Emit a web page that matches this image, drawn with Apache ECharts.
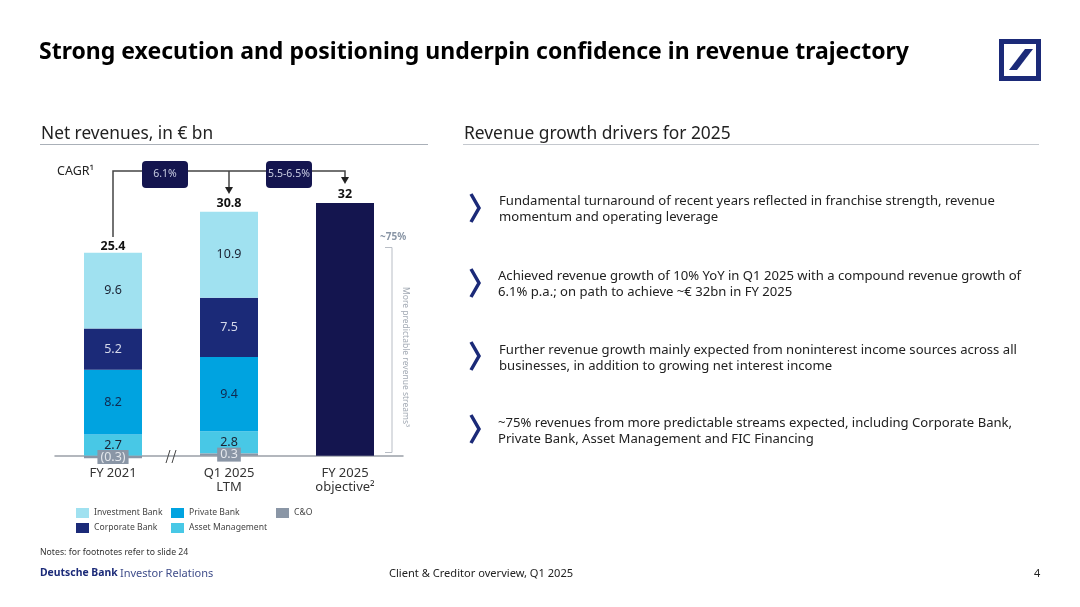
<!DOCTYPE html>
<html>
<head>
<meta charset="utf-8">
<title>Net revenues</title>
<script src="https://cdn.jsdelivr.net/npm/echarts@6/dist/echarts.min.js"></script>
<style>
  html, body { margin: 0; padding: 0; background: #fff; }
  #main { width: 1080px; height: 607px; }
</style>
</head>
<body>
<div id="main"></div>
<script>
var categories = ['FY 2021', 'Q1 2025\nLTM', 'FY 2025\nobjective²'];
var investmentBank = [9.6, 10.9, null];
var corporateBank = [5.2, 7.5, null];
var privateBank = [8.2, 9.4, null];
var assetManagement = [2.7, 2.8, null];
var capitalOther = [-0.3, 0.3, null];
var objective = [null, null, 32];
var totals = [25.4, 30.8, 32];
var cagrLabels = ['6.1%', '5.5-6.5%'];

var drivers = [
  ['Fundamental turnaround of recent years reflected in franchise strength, revenue', 'momentum and operating leverage'],
  ['Achieved revenue growth of 10% YoY in Q1 2025 with a compound revenue growth of', '6.1% p.a.; on path to achieve ~€ 32bn in FY 2025'],
  ['Further revenue growth mainly expected from noninterest income sources across all', 'businesses, in addition to growing net interest income'],
  ['~75% revenues from more predictable streams expected, including Corporate Bank,', 'Private Bank, Asset Management and FIC Financing']
];
var driverRows = [208, 283, 356, 429];
var driverTextY = [201, 276, 350, 423];

var FONT = '"Noto Sans", sans-serif';
var NAVY = '#1b2a78';
var DARK = '#14154f';
var GREY = '#8a96a6';

var chart = echarts.init(document.getElementById('main'));

function stacked(name, data, color, textColor) {
  return {
    name: name,
    type: 'bar',
    stack: 'rev',
    barWidth: '50%',
    data: data,
    itemStyle: { color: color },
    label: {
      show: true,
      position: 'inside',
      color: textColor,
      fontFamily: FONT,
      fontSize: 12.5
    }
  };
}

function legendAt(left, names) {
  return {
    left: left,
    top: 503,
    orient: 'vertical',
    itemWidth: 13,
    itemHeight: 10,
    itemGap: 5,
    icon: 'rect',
    selectedMode: false,
    textStyle: { color: '#444', fontSize: 8.6, fontFamily: FONT },
    data: names
  };
}

var capSeries = stacked('C&O', capitalOther, GREY, '#e4e7ec');
capSeries.label.backgroundColor = GREY;
capSeries.label.padding = [1, 3, 0, 3];
capSeries.label.formatter = function (p) {
  return p.value < 0 ? '(' + Math.abs(p.value) + ')' : p.value;
};
capSeries.z = 3;

var option = {
  animation: false,
  backgroundColor: '#fff',
  textStyle: { fontFamily: FONT },
  grid: { left: 55, top: 203, width: 348, height: 268.6 },
  legend: [
    legendAt(71, ['Investment Bank', 'Corporate Bank']),
    legendAt(166, ['Private Bank', 'Asset Management']),
    legendAt(271, ['C&O'])
  ],
  xAxis: {
    type: 'category',
    data: categories,
    axisTick: { show: false },
    axisLine: { onZero: true, lineStyle: { color: '#9aa0a8', width: 1.5 } },
    axisLabel: { color: '#333', fontSize: 13, lineHeight: 14, margin: -5, fontFamily: FONT }
  },
  yAxis: { type: 'value', min: -2, max: 32, interval: 2, show: false },
  series: [
    capSeries,
    stacked('Asset Management', assetManagement, '#48c8e6', '#1a2233'),
    stacked('Private Bank', privateBank, '#00a3e0', '#10294f'),
    stacked('Corporate Bank', corporateBank, NAVY, '#d5d9ea'),
    stacked('Investment Bank', investmentBank, '#a0e1f0', '#1a2233'),
    {
      name: 'Objective',
      type: 'bar',
      stack: 'rev',
      barWidth: '50%',
      data: objective,
      itemStyle: { color: DARK }
    },
    {
      name: 'Total',
      type: 'line',
      data: totals,
      symbol: 'circle',
      symbolSize: 1,
      itemStyle: { color: 'transparent' },
      lineStyle: { opacity: 0 },
      label: {
        show: true,
        position: 'top',
        distance: 2,
        color: '#111',
        fontWeight: 'bold',
        fontSize: 12.5,
        fontFamily: FONT
      },
      z: 5
    }
  ]
};
chart.setOption(option);

// annotations, anchored on the bars through the scales
function px(i, v) { return chart.convertToPixel({ xAxisIndex: 0, yAxisIndex: 0 }, [i, v]); }

function text(x, y, str, o) {
  o = o || {};
  return {
    type: 'text',
    x: x,
    y: y,
    rotation: o.rotation || 0,
    z: o.z || 10,
    style: {
      text: str,
      fill: o.color || '#222',
      font: (o.weight || 'normal') + ' ' + (o.size || 13) + 'px ' + FONT,
      textAlign: o.align || 'left',
      textVerticalAlign: 'middle'
    }
  };
}
function line(points, color, width) {
  return {
    type: 'polyline',
    z: 8,
    shape: { points: points },
    style: { stroke: color, lineWidth: width, fill: null }
  };
}
function arrow(x, tipY) {
  return {
    type: 'polygon',
    z: 9,
    shape: { points: [[x - 4, tipY - 7], [x + 4, tipY - 7], [x, tipY]] },
    style: { fill: '#222' }
  };
}
function pill(x, str) {
  return [
    { type: 'rect', z: 9, shape: { x: x, y: 161, width: 46, height: 27, r: 4 }, style: { fill: DARK } },
    text(x + 23, 174.5, str, { color: '#c9cde2', size: 10.5, align: 'center', z: 11 })
  ];
}

var x0 = px(0, 0)[0], x1 = px(1, 0)[0], x2 = px(2, 0)[0];
var breakX = (x0 + x1) / 2;

var g = [
  text(39, 52, 'Strong execution and positioning underpin confidence in revenue trajectory', { size: 23, weight: 'bold', color: '#000' }),
  text(41, 134, 'Net revenues, in € bn', { size: 17.3, color: '#222' }),
  text(464, 134, 'Revenue growth drivers for 2025', { size: 17.4, color: '#222' }),
  line([[40, 144.5], [428, 144.5]], '#aab0b8', 1),
  line([[463, 144.5], [1039, 144.5]], '#c4c8ce', 1),
  text(57, 171, 'CAGR¹', { size: 12.5, color: '#222' }),

  // CAGR connector
  line([[x0, 237], [x0, 171], [x2, 171], [x2, 178]], '#444', 1.5),
  line([[x1, 171], [x1, 187]], '#444', 1.5),
  arrow(x1, 194),
  arrow(x2, 184),

  // axis break
  line([[breakX - 5, 463], [breakX - 1, 450]], '#444', 1),
  line([[breakX + 1, 463], [breakX + 5, 450]], '#444', 1),

  // bracket
  text(380, 237, '~75%', { size: 10, color: GREY, weight: 'bold' }),
  line([[385, 247.5], [392, 247.5], [392, 452.5], [385, 452.5]], '#b8bdc5', 1),
  text(405, 357, 'More predictable revenue streams³', { size: 8.5, color: '#a4abb5', rotation: -Math.PI / 2, align: 'center' }),

  // footer
  text(40, 553, 'Notes: for footnotes refer to slide 24', { size: 8.7, color: '#333' }),
  text(40, 573.5, 'Deutsche Bank', { size: 10.4, weight: 'bold', color: NAVY }),
  text(120, 573.5, 'Investor Relations', { size: 11, color: '#3f4d8a' }),
  text(389, 573.5, 'Client & Creditor overview, Q1 2025', { size: 11.1, color: '#222' }),
  text(1034, 573.5, '4', { size: 11, color: '#222' }),

  // logo
  { type: 'rect', z: 8, shape: { x: 1001.5, y: 41.5, width: 37, height: 37 }, style: { fill: '#fff', stroke: NAVY, lineWidth: 5 } },
  { type: 'polygon', z: 9, shape: { points: [[1009, 70], [1025, 49], [1033, 49], [1017, 70]] }, style: { fill: NAVY } }
];
g = g.concat(pill(142, cagrLabels[0]), pill(266, cagrLabels[1]));

drivers.forEach(function (rows, i) {
  var cy = driverRows[i];
  g.push(line([[471, cy - 14], [479, cy], [471, cy + 14]], NAVY, 3.5));
  rows.forEach(function (s, j) {
    g.push(text(i % 2 ? 498 : 499, driverTextY[i] + j * 16, s, { size: 13.1, color: '#222' }));
  });
});

chart.setOption({ graphic: g });
</script>
</body>
</html>
